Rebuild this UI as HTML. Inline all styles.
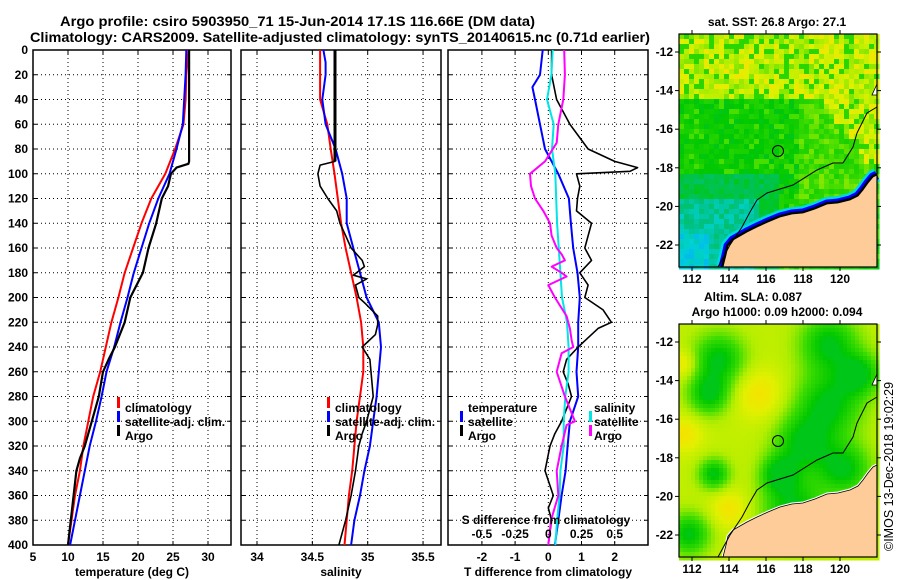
<!DOCTYPE html>
<html><head><meta charset="utf-8">
<style>
html,body{margin:0;padding:0;background:#fff;}
svg{display:block;font-family:"Liberation Sans",Arial,sans-serif;}
.t{font-weight:bold;font-size:12px;fill:#000;}
.ttl{font-weight:bold;font-size:13.5px;fill:#000;}
</style></head>
<body>
<svg id="fig" width="900" height="580" viewBox="0 0 900 580" xmlns="http://www.w3.org/2000/svg">
<rect width="900" height="580" fill="#fff"/>
<text class="ttl" x="60" y="26" textLength="475" lengthAdjust="spacingAndGlyphs">Argo profile: csiro 5903950_71 15-Jun-2014 17.1S 116.66E (DM data)</text>
<text class="ttl" x="30" y="42" textLength="620" lengthAdjust="spacingAndGlyphs">Climatology: CARS2009. Satellite-adjusted climatology: synTS_20140615.nc (0.71d earlier)</text>
<g id="p1"></g>
<g id="p2"></g>
<g id="p3"></g>
<g id="m1"></g>
<g id="m2"></g>
<text class="t" transform="translate(893,551) rotate(-90)" style="font-weight:normal;font-size:12.5px">©IMOS 13-Dec-2018 19:02:29</text>
</svg>
<script>
// ---------- data ----------
const pTicks=[0,20,40,60,80,100,120,140,160,180,200,220,240,260,280,300,320,340,360,380,400];
const tTicks=[5,10,15,20,25,30];
const sTicks=[34,34.5,35,35.5];
const sTickLabels=["34","34.5","35","35.5"];
const dTTicks=[-2,-1,0,1,2];
const dSTicks=[-0.5,-0.25,0,0.25,0.5];
const dSTickLabels=["-0.5","-0.25","0","0.25","0.5"];

const tClimP=[0,20,40,60,80,100,120,140,160,180,200,220,240,260,280,300,320,340,360,380,400];
const tClimV=[27.2,26.9,26.8,26.5,25.3,23.9,21.9,20.5,19.3,18.1,17.2,16.2,15.4,14.6,13.6,12.9,12.2,11.7,11.0,10.5,10.0];
const tSatP=[0,20,40,60,80,100,120,140,160,180,200,220,240,260,280,300,320,340,360,380,400];
const tSatV=[26.9,26.8,26.6,26.4,25.5,24.5,22.9,21.6,20.5,19.4,18.5,17.5,16.6,15.5,14.8,14.0,13.1,12.4,11.7,11.0,10.3];
const tArgoP=[0,90,92,95,100,110,120,140,160,180,200,220,240,250,260,280,300,320,330,340,360,380,400];
const tArgoV=[27.3,27.3,27.2,25.5,24.7,24.3,23.4,22.6,21.5,20.7,18.9,18.1,16.7,15.8,15.0,14.4,13.4,12.4,11.7,11.2,10.8,10.4,10.0];

const sClimP=[0,20,40,60,80,100,120,140,160,180,200,220,240,260,280,300,320,340,360,380,400];
const sClimV=[34.57,34.57,34.57,34.635,34.666,34.70,34.73,34.76,34.80,34.85,34.90,34.94,34.96,34.96,34.93,34.90,34.88,34.86,34.83,34.81,34.79];
const sSatP=[0,10,20,40,60,80,100,120,140,160,180,200,220,240,260,280,300,320,340,360,380,400];
const sSatV=[34.60,34.62,34.62,34.59,34.62,34.71,34.77,34.81,34.81,34.87,34.93,34.99,35.10,35.12,35.10,35.08,35.05,35.02,34.97,34.93,34.88,34.85];
const sArgoP=[0,90,93,100,110,120,130,140,150,160,170,175,182,185,190,200,205,215,222,230,240,250,260,280,300,310,320,340,360,380,400];
const sArgoV=[34.705,34.705,34.57,34.55,34.57,34.64,34.72,34.75,34.80,34.85,34.95,34.97,34.87,34.99,34.89,34.92,34.98,35.09,35.09,35.07,34.95,35.02,35.03,35.05,34.99,34.95,34.92,34.89,34.85,34.80,34.74];

const dTSatP=[0,20,30,40,60,80,100,120,140,160,180,200,220,240,260,280,300,320,340,360,380,400];
const dTSatV=[-0.17,-0.25,-0.48,-0.40,-0.25,-0.10,0.30,0.62,0.68,0.75,0.88,0.95,0.90,0.90,0.85,0.90,0.65,0.58,0.52,0.40,0.30,0.20];
const dTArgoP=[0,20,40,60,80,90,95,98,100,110,120,130,140,160,170,180,190,200,210,220,225,235,240,250,260,270,280,300,310,320,340,360,370,380,400];
const dTArgoV=[0.10,0.10,0.25,0.65,1.2,2.0,2.69,2.46,0.85,0.95,0.88,0.85,1.3,1.1,1.3,0.95,1.2,1.1,1.65,1.9,1.5,1.1,0.9,0.55,0.45,0.6,0.7,0.4,0.2,0.05,-0.1,0.15,0.0,0.1,0.0];
const dSSatP=[0,20,40,60,80,100,140,180,200,220,240,260,280,300,320,340,360,380,400];
const dSSatV=[0.033,0.023,-0.01,0.041,0.028,0.053,0.066,0.091,0.103,0.141,0.153,0.153,0.128,0.116,0.116,0.091,0.085,0.066,0.053];
const dSArgoP=[0,20,40,60,75,90,100,110,120,130,140,150,160,165,170,175,180,183,190,200,215,225,235,240,245,260,280,300,303,320,340,360,380,400];
const dSArgoV=[0.12,0.125,0.113,0.075,0.063,-0.025,-0.138,-0.13,-0.10,-0.038,0.013,0.025,0.063,0.10,0.125,0.025,0.10,0.138,0.0,0.05,0.138,0.163,0.176,0.188,0.10,0.063,0.125,0.20,0.138,0.10,0.063,0.075,0.02,0.0];

// ---------- helpers ----------
const NS="http://www.w3.org/2000/svg";
function mk(parent,tag,attrs){const e=document.createElementNS(NS,tag);for(const k in attrs)e.setAttribute(k,attrs[k]);parent.appendChild(e);return e;}
const Y0=50,Y1=545;
const yP=p=>Y0+p*(Y1-Y0)/400;
const x1=t=>33+(t-5)*7;
const x2=s=>257+(s-34)*110.7;
const x3=v=>548.3+v*33.2;
const x3s=s=>x3(s*4);

function frame(g,L,R,xs,xticks,xlabels,showY){
  for(const p of pTicks){ if(p===0||p===400)continue;
    const gl=mk(g,'line',{x1:L,x2:R,y1:yP(p),y2:yP(p),stroke:'#000','stroke-width':1,'stroke-dasharray':'1,3'});
    
    
    mk(g,'line',{x1:L,x2:L+4,y1:yP(p),y2:yP(p),stroke:'#000'});
    mk(g,'line',{x1:R-4,x2:R,y1:yP(p),y2:yP(p),stroke:'#000'});
  }
  xticks.forEach((v,i)=>{const x=xs(v);
    if(x>L+1&&x<R-1){
      const gl=mk(g,'line',{x1:x,x2:x,y1:Y0,y2:Y1,stroke:'#000','stroke-width':1,'stroke-dasharray':'1,3'});
      
      
      mk(g,'line',{x1:x,x2:x,y1:Y1-4,y2:Y1,stroke:'#000'});
      mk(g,'line',{x1:x,x2:x,y1:Y0,y2:Y0+4,stroke:'#000'});
    }
    if(xlabels){const t=mk(g,'text',{x:x,y:561,'text-anchor':'middle',class:'t'});t.textContent=xlabels[i];
      
      }
  });
  if(showY){for(const p of pTicks){const t=mk(g,'text',{x:28,y:yP(p)+4,'text-anchor':'end',class:'t'});t.textContent=String(p);
    
    }}
  const r=mk(g,'rect',{x:L,y:Y0,width:R-L,height:Y1-Y0,fill:'none',stroke:'#000','stroke-width':1.5});
  
  
}
function line(g,P,V,xs,color,w,name){
  const d=P.map((p,i)=>(i?'L':'M')+xs(V[i]).toFixed(1)+','+yP(p).toFixed(1)).join('');
  const e=mk(g,'path',{d:d,fill:'none',stroke:color,'stroke-width':w,'stroke-linejoin':'round'});
  
  
}
function txt(g,x,y,s,anchor,name){const t=mk(g,'text',{x:x,y:y,'text-anchor':anchor||'start',class:'t'});t.textContent=s;
  
  return t;}
function legBar(g,x,y,color,name){const b=mk(g,'rect',{x:x,y:y-10,width:3,height:11,fill:color});
  
  }

// ---------- panel 1 ----------
const g1=document.getElementById('p1');
frame(g1,33,231,x1,tTicks,tTicks.map(String),true);
line(g1,tClimP,tClimV,x1,'#ff0000',2,'temperature-climatology-line');
line(g1,tSatP,tSatV,x1,'#0000ff',2,'temperature-satellite-line');
line(g1,tArgoP,tArgoV,x1,'#000',2.2,'temperature-argo-line');
txt(g1,132,576,'temperature (deg C)','middle','x-axis-title-temperature');
legBar(g1,117,407,'#ff0000','legend-swatch-climatology');txt(g1,125,412,'climatology','start','legend-climatology');
legBar(g1,117,421,'#0000ff','legend-swatch-satellite');txt(g1,125,426,'satellite-adj. clim.','start','legend-satellite-adj');
legBar(g1,117,435,'#000','legend-swatch-argo');txt(g1,125,440,'Argo','start','legend-argo');

// ---------- panel 2 ----------
const g2=document.getElementById('p2');
frame(g2,241,441,x2,sTicks,sTickLabels,false);
line(g2,sClimP,sClimV,x2,'#ff0000',2,'salinity-climatology-line');
line(g2,sSatP,sSatV,x2,'#0000ff',2,'salinity-satellite-line');
line(g2,sArgoP.slice(0,2),sArgoV.slice(0,2),x2,'#000',3,'salinity-argo-mixed-layer');
line(g2,sArgoP,sArgoV,x2,'#000',1.6,'salinity-argo-line');
txt(g2,341,576,'salinity','middle','x-axis-title-salinity');
legBar(g2,327,407,'#ff0000','legend-swatch-climatology');txt(g2,335,412,'climatology','start','legend-climatology');
legBar(g2,327,421,'#0000ff','legend-swatch-satellite');txt(g2,335,426,'satellite-adj. clim.','start','legend-satellite-adj');
legBar(g2,327,435,'#000','legend-swatch-argo');txt(g2,335,440,'Argo','start','legend-argo');

// ---------- panel 3 ----------
const g3=document.getElementById('p3');
frame(g3,448,648,x3,dTTicks,dTTicks.map(String),false);
line(g3,dTSatP,dTSatV,x3,'#0000ff',2,'t-diff-satellite-line');
line(g3,dTArgoP,dTArgoV,x3,'#000',1.6,'t-diff-argo-line');
line(g3,dSSatP,dSSatV,x3s,'#00e5e5',2,'s-diff-satellite-line');
line(g3,dSArgoP,dSArgoV,x3s,'#ff00ff',2,'s-diff-argo-line');
txt(g3,548,576,'T difference from climatology','middle','x-axis-title-t-difference');
txt(g3,546,524,'S difference from climatology','middle','s-axis-title');
dSTicks.forEach((v,i)=>{txt(g3,x3s(v),538,dSTickLabels[i],'middle','s-tick-label');});
txt(g3,468,412,'temperature','start','legend-temperature-heading');
legBar(g3,460,421,'#0000ff','legend-swatch-t-satellite');txt(g3,468,426,'satellite','start','legend-t-satellite');
legBar(g3,460,435,'#000','legend-swatch-t-argo');txt(g3,468,440,'Argo','start','legend-t-argo');
txt(g3,594,412,'salinity','start','legend-salinity-heading');
legBar(g3,589,421,'#00e5e5','legend-swatch-s-satellite');txt(g3,594,426,'satellite','start','legend-s-satellite');
legBar(g3,589,435,'#ff00ff','legend-swatch-s-argo');txt(g3,594,440,'Argo','start','legend-s-argo');

// ---------- maps ----------
const MX0=679,MX1=877;
const lonTicks=[112,114,116,118,120];
const latTicks=[-12,-14,-16,-18,-20,-22];
const lonX=l=>692+(l-112)*18.5;
const latY=l=>52+(-12-l)*19.3;
const stops=[[0.15,[0,170,255]],[0.25,[0,210,210]],[0.35,[0,192,128]],[0.45,[0,200,0]],[0.55,[60,220,0]],[0.65,[180,238,0]],[0.72,[225,240,0]],[0.8,[255,220,0]],[0.92,[255,170,0]]];
function cmap(f){if(f<=stops[0][0])return stops[0][1];for(let i=1;i<stops.length;i++){if(f<=stops[i][0]){const a=stops[i-1],b=stops[i],t=(f-a[0])/(b[0]-a[0]);return a[1].map((c,k)=>Math.round(c+(b[1][k]-c)*t));}}return stops[stops.length-1][1];}
function hash(i,j){let h=(i*374761393+j*668265263)|0;h=(h^(h>>>13))*1274126177|0;return ((h^(h>>>16))>>>0)/4294967296;}
function coast(dy){return [[723,267],[726,255],[728,246],[733,240],[740,236],[747,232],[757,227],[768,222],[780,217],[792,214],[803,213],[815,209],[827,204],[838,203],[850,200],[858,196],[863,190],[868,183],[873,177],[877,175]].map(p=>[p[0],p[1]+dy]);}
const iso=[[718,267],[730,245],[742,227],[750,212],[757,200],[767,193],[793,185],[817,170],[833,163],[843,163],[853,147],[857,133],[867,113],[877,107]];
function pathOf(pts){return pts.map((p,i)=>(i?'L':'M')+p[0]+','+p[1]).join('');}

function drawMap(gid,dy,field,cell,shelf){
  const g=document.getElementById(gid);
  const top=34+dy,bot=267+dy;
  const cg=mk(g,'g',{});
  
  
  for(let y=top,j=0;y<bot;y+=cell,j++)for(let x=MX0,i=0;x<MX1;x+=cell,i++){
    const c=cmap(field(x-MX0+cell/2,y-top+cell/2,i,j));
    mk(cg,'rect',{x:x,y:y,width:cell+0.5,height:cell+0.5,fill:'rgb('+c.join(',')+')'});
  }
  const cs=coast(dy);const cp=pathOf(cs);
  if(shelf){mk(g,'path',{d:cp,fill:'none',stroke:'#00d8e0','stroke-width':14});
    mk(g,'path',{d:cp,fill:'none',stroke:'#0000ff','stroke-width':9});
    mk(g,'path',{d:cp,fill:'none',stroke:'#000','stroke-width':4});}
  else{mk(g,'path',{d:cp,fill:'none',stroke:'#fff','stroke-width':3});}
  const land=mk(g,'path',{d:cp+'L877,'+bot+'Z',fill:'#fdcc99',stroke:'none'});
  
  
  mk(g,'path',{d:cp,fill:'none',stroke:'#000','stroke-width':0.8});
  const is=mk(g,'path',{d:pathOf(iso.map(p=>[p[0],p[1]+dy])),fill:'none',stroke:'#000','stroke-width':1});
  
  
  mk(g,'path',{d:'M877,'+(84+dy)+'L872,'+(95+dy)+'L877,'+(95+dy)+'Z',fill:'#fff',stroke:'#000','stroke-width':0.8});
  const c=mk(g,'circle',{cx:778,cy:151+dy,r:5.5,fill:'none',stroke:'#000','stroke-width':1});
  
  
  const fr=mk(g,'rect',{x:MX0,y:top,width:MX1-MX0,height:bot-top,fill:'none',stroke:'#000','stroke-width':1.2});
  
  
  lonTicks.forEach(l=>{const x=lonX(l);
    mk(g,'line',{x1:x,x2:x,y1:top-4,y2:top,stroke:'#000'});mk(g,'line',{x1:x,x2:x,y1:bot,y2:bot+4,stroke:'#000'});
    txt(g,x,bot+16,String(l),'middle','lon-tick-label');});
  latTicks.forEach(l=>{const y=latY(l)+dy;
    mk(g,'line',{x1:MX0-4,x2:MX0,y1:y,y2:y,stroke:'#000'});mk(g,'line',{x1:MX1,x2:MX1+4,y1:y,y2:y,stroke:'#000'});
    txt(g,673,y+4,String(l),'end','lat-tick-label');});
}
function sst(u,w,i,j){
  const n=hash(i,j),n2=hash(j+7,i+3);
  let wb=66+(u>140?Math.min(64,(u-140)*1.3):0);
  let f;
  if(w<wb){f=0.68+(n-0.5)*0.16; if(n2<0.2)f=0.52;}
  else{f=0.47+(n-0.5)*0.08; if(n2<0.12)f=0.56;
    if(u>120&&w<170&&w>wb-10)f=0.55+(n-0.5)*0.12;
    if(w>140&&u<100){f=0.40+(n-0.5)*0.06;}
    if(w>165&&u<80){f=0.32+(n-0.5)*0.1;}
    if(w>200&&u<30){f=0.24+(n-0.5)*0.1;}}
  return f;
}
const greens=[[40,35,25],[30,70,20],[150,20,28],[150,80,32],[125,120,28],[165,145,25],[10,210,20],[115,185,30],[35,150,15],[180,50,20],[100,150,18]];
const oranges=[[5,110,18],[50,185,18],[80,70,25],[5,40,14]];
function sla(u,w){
  let f=0.67;
  for(const g of greens){const d=((u-g[0])**2+(w-g[1])**2)/(g[2]*g[2]);f-=0.24*Math.exp(-d);}
  for(const g of oranges){const d=((u-g[0])**2+(w-g[1])**2)/(g[2]*g[2]);f+=0.1*Math.exp(-d);}
  return Math.max(0.43,f);
}
drawMap('m1',0,sst,5,true);
drawMap('m2',290,sla,4,false);
const gm1=document.getElementById('m1'),gm2=document.getElementById('m2');
txt(gm1,777,26,'sat. SST: 26.8 Argo: 27.1','middle','sst-map-title');
txt(gm2,753,301,'Altim. SLA: 0.087','middle','sla-map-title');
txt(gm2,777,316,'Argo h1000: 0.09 h2000: 0.094','middle','sla-map-subtitle');
</script>
</body></html>
